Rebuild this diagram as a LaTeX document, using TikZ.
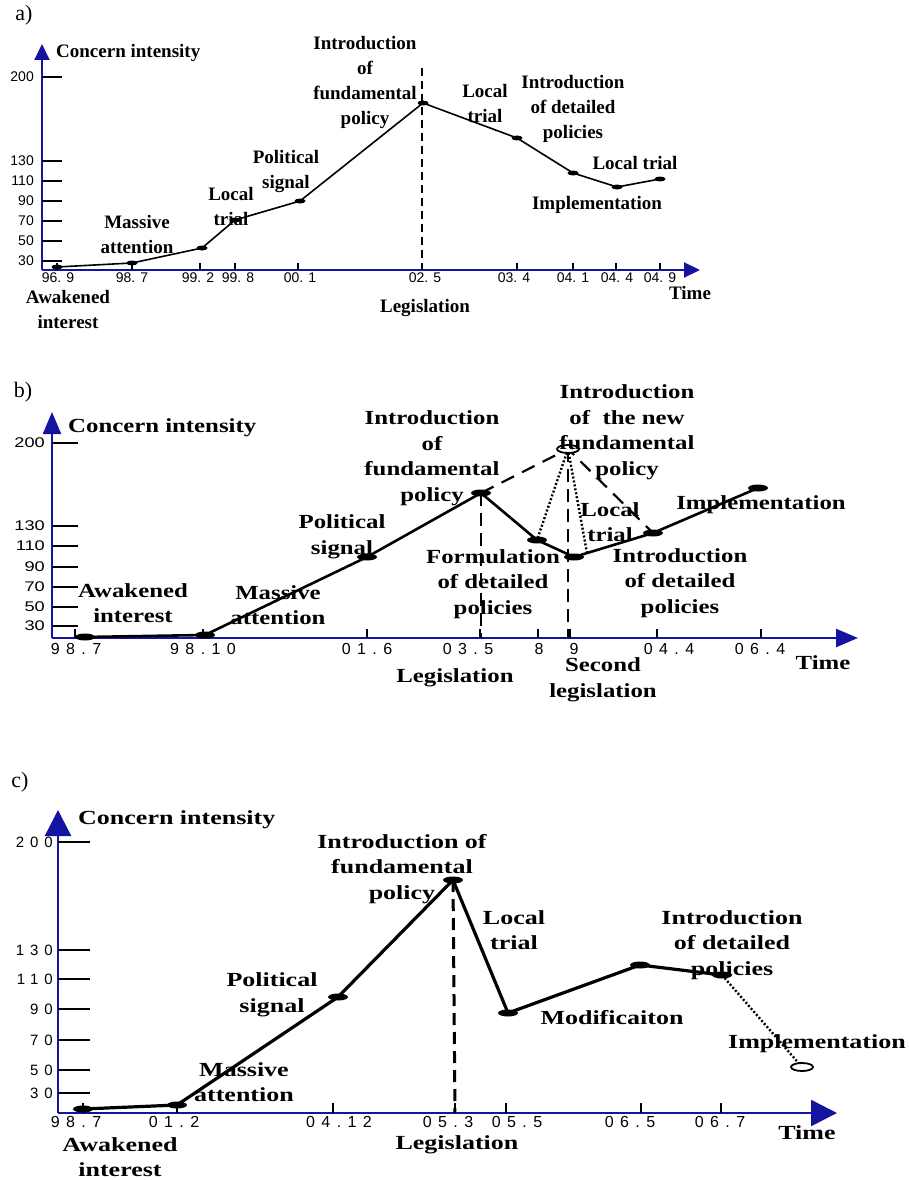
\documentclass[tikz,border=0pt]{standalone}
\usepackage{fontspec}
\setmainfont{Liberation Serif}
\newfontfamily\stretchB[FakeStretch=1.24]{Liberation Serif}
\newfontfamily\stretchC[FakeStretch=1.3]{Liberation Serif}
\newfontfamily\digitsA{Liberation Sans}
\newfontfamily\digitsB[FakeStretch=1.3]{Liberation Sans}
\newfontfamily\digitsS[LetterSpace=40]{Liberation Sans}
\usepackage{tikz}
\usetikzlibrary{arrows.meta}
\definecolor{axisblue}{RGB}{20,20,160}
\tikzstyle{panel} = [font=\fontsize{22}{24}\selectfont, inner sep=0pt]
\tikzstyle{capA} = [font=\fontsize{19}{25}\selectfont\bfseries, align=center, inner sep=0pt]
\tikzstyle{capB} = [font=\stretchB\fontsize{20}{25.5}\selectfont\bfseries, align=center, inner sep=0pt]
\tikzstyle{capC} = [font=\stretchC\fontsize{20}{25.5}\selectfont\bfseries, align=center, inner sep=0pt]
\tikzstyle{numA} = [font=\digitsA\fontsize{14}{14}\selectfont, inner sep=0pt]
\tikzstyle{numB} = [font=\digitsB\fontsize{14}{14}\selectfont, inner sep=0pt]
\tikzstyle{numS} = [font=\digitsS\fontsize{16}{16}\selectfont, inner sep=0pt]
\tikzstyle{numSy} = [font=\digitsS\fontsize{15}{15}\selectfont, inner sep=0pt]
\tikzstyle{axisA} = [color=axisblue, line width=2pt, -{Triangle[length=16pt,width=15pt]}]
\tikzstyle{axisB} = [color=axisblue, line width=2.2pt, -{Triangle[length=22pt,width=18pt]}]
\tikzstyle{axisC} = [color=axisblue, line width=2.5pt, -{Triangle[length=26pt,width=26pt]}]
\tikzstyle{tickA} = [line width=1.4pt]
\tikzstyle{tickB} = [line width=2.2pt]
\tikzstyle{tickC} = [line width=2.6pt]
\tikzstyle{trendA} = [line width=1.6pt, line join=round]
\tikzstyle{trendB} = [line width=2.6pt, line join=round]
\tikzstyle{trendC} = [line width=3.2pt, line join=round]
\tikzstyle{legA} = [line width=1.6pt, dash pattern=on 8pt off 5pt]
\tikzstyle{legB} = [line width=2.4pt, dash pattern=on 13pt off 7pt]
\tikzstyle{legC} = [line width=3pt, dash pattern=on 12pt off 7pt]
\tikzstyle{longdash} = [line width=2.2pt, dash pattern=on 14pt off 9pt]
\tikzstyle{dotline} = [line width=2.4pt, dash pattern=on 2pt off 2pt]

\begin{document}
\begin{tikzpicture}[x=1pt,y=-1pt]
  \useasboundingbox (0,0) rectangle (908,1180);

  % ---- a) ----
  \node[panel](pa) at (24,15) {a)};
  \coordinate (oa) at (42,270);
  \coordinate (xa) at (700,270);
  \coordinate (ya) at (42,44);
  \draw[axisA] (oa) -- (xa);
  \draw[axisA] (oa) -- (ya);
  \node[capA,anchor=west](ca) at (56,53) {Concern intensity};
  \foreach \v/\y [count=\i] in {200/77,130/161,110/181,90/201,70/221,50/241,30/261} {
    \draw[tickA] (42,\y) -- (62,\y);
    \node[numA,anchor=east](va\i) at (34,\y) {\v};
  }
  \foreach \x/\l/\t [count=\i] in {57/58/96. 9,132/132/98. 7,200/198/99. 2,235/238/99. 8,
      298/300/00. 1,422/425/02. 5,517/514/03. 4,573/573/04. 1,616/617/04. 4,660/660/04. 9} {
    \draw[tickA] (\x,263) -- (\x,270);
    \node[numA](ta\i) at (\l,278) {\t};
  }
  \coordinate (a1) at (57,267);
  \coordinate (a2) at (132,263);
  \coordinate (a3) at (202,248);
  \coordinate (a4) at (235,220);
  \coordinate (a5) at (300,201);
  \coordinate (a6) at (423,103);
  \coordinate (a7) at (517,138);
  \coordinate (a8) at (573,173);
  \coordinate (a9) at (617,187);
  \coordinate (a10) at (660,179);
  \coordinate (la) at (422,68);
  \coordinate (la0) at (422,270);
  \draw[legA] (la) -- (la0);
  \draw[trendA] (a1) -- (a2) -- (a3) -- (a4) -- (a5) -- (a6) -- (a7) -- (a8) -- (a9) -- (a10);
  \foreach \p in {1,...,10}
    \fill (a\p) ellipse (5.5 and 2.5);
  \node[capA](awa) at (68,309) {Awakened\\interest};
  \node[capA](maa) at (137,234) {Massive\\attention};
  \node[capA](lta) at (231,207) {Local\\trial};
  \node[capA](psa) at (286,172) {Political\\signal};
  \node[capA](ifa) at (365,82) {Introduction\\of\\fundamental\\policy};
  \node[capA](lga) at (425,308) {Legislation};
  \node[capA](ltb) at (485,104) {Local\\trial};
  \node[capA](ida) at (573,109) {Introduction\\of detailed\\policies};
  \node[capA](ltc) at (635,163) {Local trial};
  \node[capA](ima) at (597,205) {Implementation};
  \node[capA](tia) at (690,293) {Time};

  % ---- b) ----
  \node[panel](pb) at (23,392) {b)};
  \coordinate (ob) at (52,638);
  \coordinate (xb) at (858,638);
  \coordinate (yb) at (52,412);
  \draw[axisB] (ob) -- (xb);
  \draw[axisB] (ob) -- (yb);
  \node[capB,anchor=west](cb) at (68,428) {Concern intensity};
  \foreach \v/\y [count=\i] in {200/443,130/526,110/546,90/567,70/587,50/607,30/626} {
    \draw[tickB] (52,\y) -- (78,\y);
    \node[numB,anchor=east](vb\i) at (45,\y) {\v};
  }
  \foreach \x/\l/\t [count=\i] in {75/76/98.7,203/203/98.10,367/367/01.6,480/468/03.5,
      538/539/8,570/574/9,657/669/04.4,761/760/06.4} {
    \draw[tickB] (\x,629) -- (\x,638);
    \node[numS](tb\i) at (\l,649) {\t};
  }
  \coordinate (b1) at (85,637);
  \coordinate (b2) at (205,635);
  \coordinate (b3) at (367,557);
  \coordinate (b4) at (481,493);
  \coordinate (b5) at (537,540);
  \coordinate (b6) at (574,557);
  \coordinate (b7) at (653,533);
  \coordinate (b8) at (758,488);
  \coordinate (b9) at (568,449);
  \coordinate (b6r) at (587,553);
  \coordinate (lb) at (481,638);
  \coordinate (sb) at (568,638);
  \draw[legB] (b4) -- (lb);
  \draw[legB] (b9) -- (sb);
  \draw[longdash] (b4) -- (b9) -- (b7);
  \draw[dotline] (b9) -- (b5);
  \draw[dotline] (b9) -- (b6r);
  \draw[trendB] (b1) -- (b2) -- (b3) -- (b4) -- (b5) -- (b6) -- (b7) -- (b8);
  \foreach \p in {1,...,8}
    \fill (b\p) ellipse (10 and 3.5);
  \draw[line width=1.8pt, fill=white] (b9) ellipse (11 and 4);
  \node[capB](awb) at (133,603) {Awakened\\interest};
  \node[capB](mab) at (278,605) {Massive\\attention};
  \node[capB](psb) at (342,537) {Political\\signal};
  \node[capB](ifb) at (432,458) {Introduction\\of\\fundamental\\policy};
  \node[capB](fdb) at (493,584) {Formulation\\of detailed\\policies};
  \node[capB](inb) at (627,432) {Introduction\\of\ \ the new\\fundamental\\policy};
  \node[capB](ltd) at (610,522) {Local\\trial};
  \node[capB](imb) at (761,505) {Implementation};
  \node[capB](idb) at (680,583) {Introduction\\of detailed\\policies};
  \node[capB](lgb) at (455,678) {Legislation};
  \node[capB](slb) at (603,680) {Second\\legislation};
  \node[capB](tib) at (823,663) {Time};

  % ---- c) ----
  \node[panel](pc) at (20,782) {c)};
  \coordinate (oc) at (58,1113);
  \coordinate (xc) at (837,1113);
  \coordinate (yc) at (58,810);
  \draw[axisC] (oc) -- (xc);
  \draw[axisC] (oc) -- (yc);
  \node[capC,anchor=west](cc) at (78,820) {Concern intensity};
  \foreach \v/\y [count=\i] in {200/842,130/950,110/979,90/1009,70/1040,50/1070,30/1093} {
    \draw[tickC] (58,\y) -- (90,\y);
    \node[numSy,anchor=east](vc\i) at (53,\y) {\v};
  }
  \foreach \x/\l/\t [count=\i] in {83/76/98.7,177/174/01.2,333/339/04.12,455/448/05.3,
      506/517/05.5,641/630/06.5,721/720/06.7} {
    \draw[tickC] (\x,1103) -- (\x,1113);
    \node[numS](tc\i) at (\l,1122) {\t};
  }
  \coordinate (c1) at (83,1109);
  \coordinate (c2) at (177,1105);
  \coordinate (c3) at (338,997);
  \coordinate (c4) at (453,880);
  \coordinate (c5) at (508,1013);
  \coordinate (c6) at (640,965);
  \coordinate (c7) at (722,975);
  \coordinate (c8) at (802,1067);
  \coordinate (lc) at (455,1113);
  \draw[legC] (c4) -- (lc);
  \draw[dotline] (c7) -- (c8);
  \draw[trendC] (c1) -- (c2) -- (c3) -- (c4) -- (c5) -- (c6) -- (c7);
  \foreach \p in {1,...,7}
    \fill (c\p) ellipse (10 and 3.5);
  \draw[line width=1.8pt, fill=white] (c8) ellipse (11 and 4);
  \node[capC](ifc) at (402,869) {Introduction of\\fundamental\\policy};
  \node[capC](psc) at (272,995) {Political\\signal};
  \node[capC](mac) at (244,1082) {Massive\\attention};
  \node[capC](awc) at (120,1157) {Awakened\\interest};
  \node[capC](lgc) at (457,1145) {Legislation};
  \node[capC](lte) at (514,930) {Local\\trial};
  \node[capC](moc) at (612,1018) {Modificaiton};
  \node[capC](idc) at (732,945) {Introduction\\of detailed\\policies};
  \node[capC](imc) at (817,1044) {Implementation};
  \node[capC](tic) at (807,1133) {Time};
\end{tikzpicture}
\end{document}
